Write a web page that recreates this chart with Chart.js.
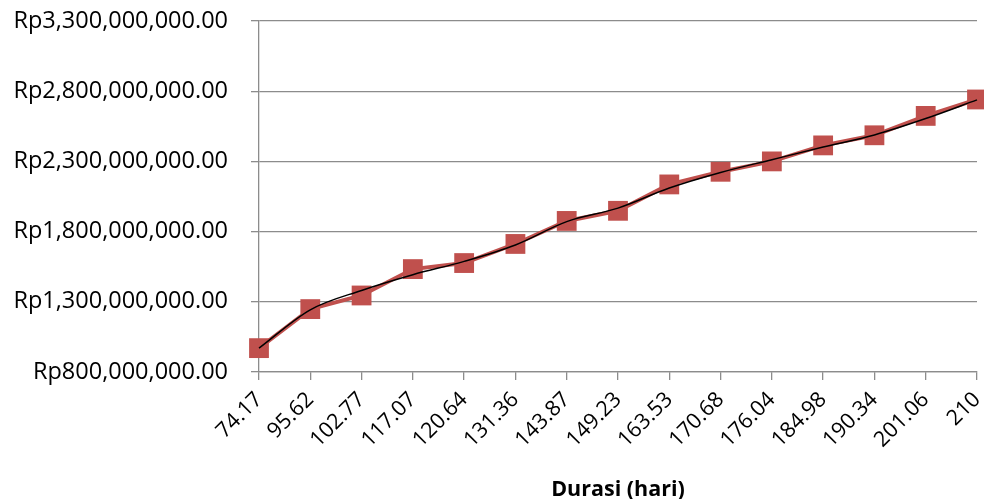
<!DOCTYPE html>
<html>
<head>
<meta charset="utf-8">
<script src="https://cdn.jsdelivr.net/npm/chart.js@4/dist/chart.umd.min.js"></script>
<style>
html,body{margin:0;padding:0;background:#fff;}
#wrap{width:984px;height:499px;position:relative;}
</style>
</head>
<body>
<div id="wrap"><canvas id="c" width="984" height="499"></canvas></div>
<script>
const categories = ["74.17","95.62","102.77","117.07","120.64","131.36","143.87","149.23","163.53","170.68","176.04","184.98","190.34","201.06","210"];
const costValues = [970e6,1248e6,1345e6,1533e6,1576e6,1712e6,1876e6,1948e6,2136e6,2226e6,2300e6,2414e6,2486e6,2624e6,2741e6];
const trendValues = [970e6,1243e6,1381e6,1493e6,1588e6,1705e6,1871e6,1967e6,2110e6,2221e6,2312e6,2402e6,2488e6,2605e6,2738e6];
const yTicks = [800e6,1300e6,1800e6,2300e6,2800e6,3300e6];

const FONT = "'Open Sans', sans-serif";
const gridColor = '#8c8c8c';

function fmtRp(v){
  return 'Rp' + Math.round(v).toString().replace(/\B(?=(\d{3})+(?!\d))/g, ',') + '.00';
}

new Chart(document.getElementById('c'), {
  type: 'line',
  data: {
    labels: categories,
    datasets: [
      {
        label: 'Trend',
        data: trendValues,
        borderColor: '#000000',
        borderWidth: 1.5,
        pointRadius: 0,
        cubicInterpolationMode: 'monotone',
        fill: false,
        clip: false,
        order: 0
      },
      {
        label: 'Biaya',
        data: costValues,
        borderColor: '#c0504d',
        backgroundColor: '#c0504d',
        borderWidth: 4,
        pointStyle: 'rect',
        pointRadius: 14,
        pointBackgroundColor: '#c0504d',
        pointBorderColor: '#c0504d',
        pointBorderWidth: 0,
        tension: 0,
        fill: false,
        clip: false,
        order: 1
      }
    ]
  },
  options: {
    responsive: false,
    animation: false,
    layout: { autoPadding: false, padding: { left: 0, right: 7, top: 21, bottom: 0 } },
    plugins: { legend: { display: false }, tooltip: { enabled: false } },
    scales: {
      x: {
        offset: false,
        afterFit: (axis) => { axis.height = 127; axis.paddingLeft = 0; axis.paddingRight = 0; },
        grid: { display: true, drawOnChartArea: false, drawTicks: true, tickLength: 8, color: gridColor, lineWidth: 1.3 },
        border: { display: true, color: gridColor, width: 1.3 },
        ticks: { color: '#000', font: { family: FONT, size: 21.5 }, maxRotation: 45, minRotation: 45, autoSkip: false, padding: 7 },
        title: { display: true, text: 'Durasi (hari)', color: '#000', font: { family: FONT, size: 21.5, weight: 'bold' }, padding: { top: 0, bottom: -4 } }
      },
      y: {
        min: 800e6,
        max: 3300e6,
        afterFit: (axis) => { axis.width = 259; axis.paddingTop = 0; axis.paddingBottom = 0; },
        afterBuildTicks: (axis) => { axis.ticks = yTicks.map(v => ({ value: v })); },
        grid: { color: gridColor, lineWidth: 1.3, tickLength: 8, drawTicks: true },
        border: { display: true, color: gridColor, width: 1.3 },
        ticks: { color: '#000', font: { family: FONT, size: 23.5 }, padding: 23, callback: (v) => fmtRp(v) }
      }
    }
  }
});
</script>
</body>
</html>
